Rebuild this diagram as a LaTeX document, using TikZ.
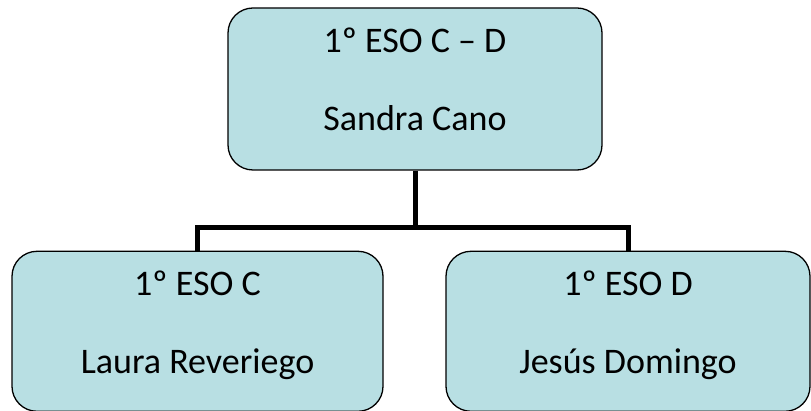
\documentclass[tikz,border=0pt]{standalone}
\usepackage{fontspec}
\setmainfont{Carlito}
\usepackage{tikz}
\usetikzlibrary{positioning}
\definecolor{boxfill}{HTML}{B8DFE3}

\begin{document}
\begin{tikzpicture}[%
        x=1pt, y=-1pt,
        every node/.style={rectangle, rounded corners=25pt, inner sep=0pt, line width=1.3pt,
          font=\fontsize{36}{78}\selectfont, align=center, text depth=19pt},
        unit/.style={draw=black, fill=boxfill, minimum height=160pt},
        conn/.style={line width=5pt}
      ]
      \useasboundingbox (0,0) rectangle (811,411);
      \node [unit] (0) [minimum width=374pt, minimum height=162pt] at (415,89) {1º ESO C – D\\Sandra Cano};
      \node [unit] (1) [minimum width=371pt, below=80pt of 0, xshift=-217.5pt] {1º ESO C\\Laura Reveriego};
      \node [unit] (2) [minimum width=364pt, below=80pt of 0, xshift=213pt] {1º ESO D\\Jesús Domingo};
      \coordinate [below=57pt of 0.south] (mid);
      \draw[conn] (0.south) -- (mid);
      \draw[conn] (1.north) |- (mid) -| (2.north);
    \end{tikzpicture}
\end{document}
